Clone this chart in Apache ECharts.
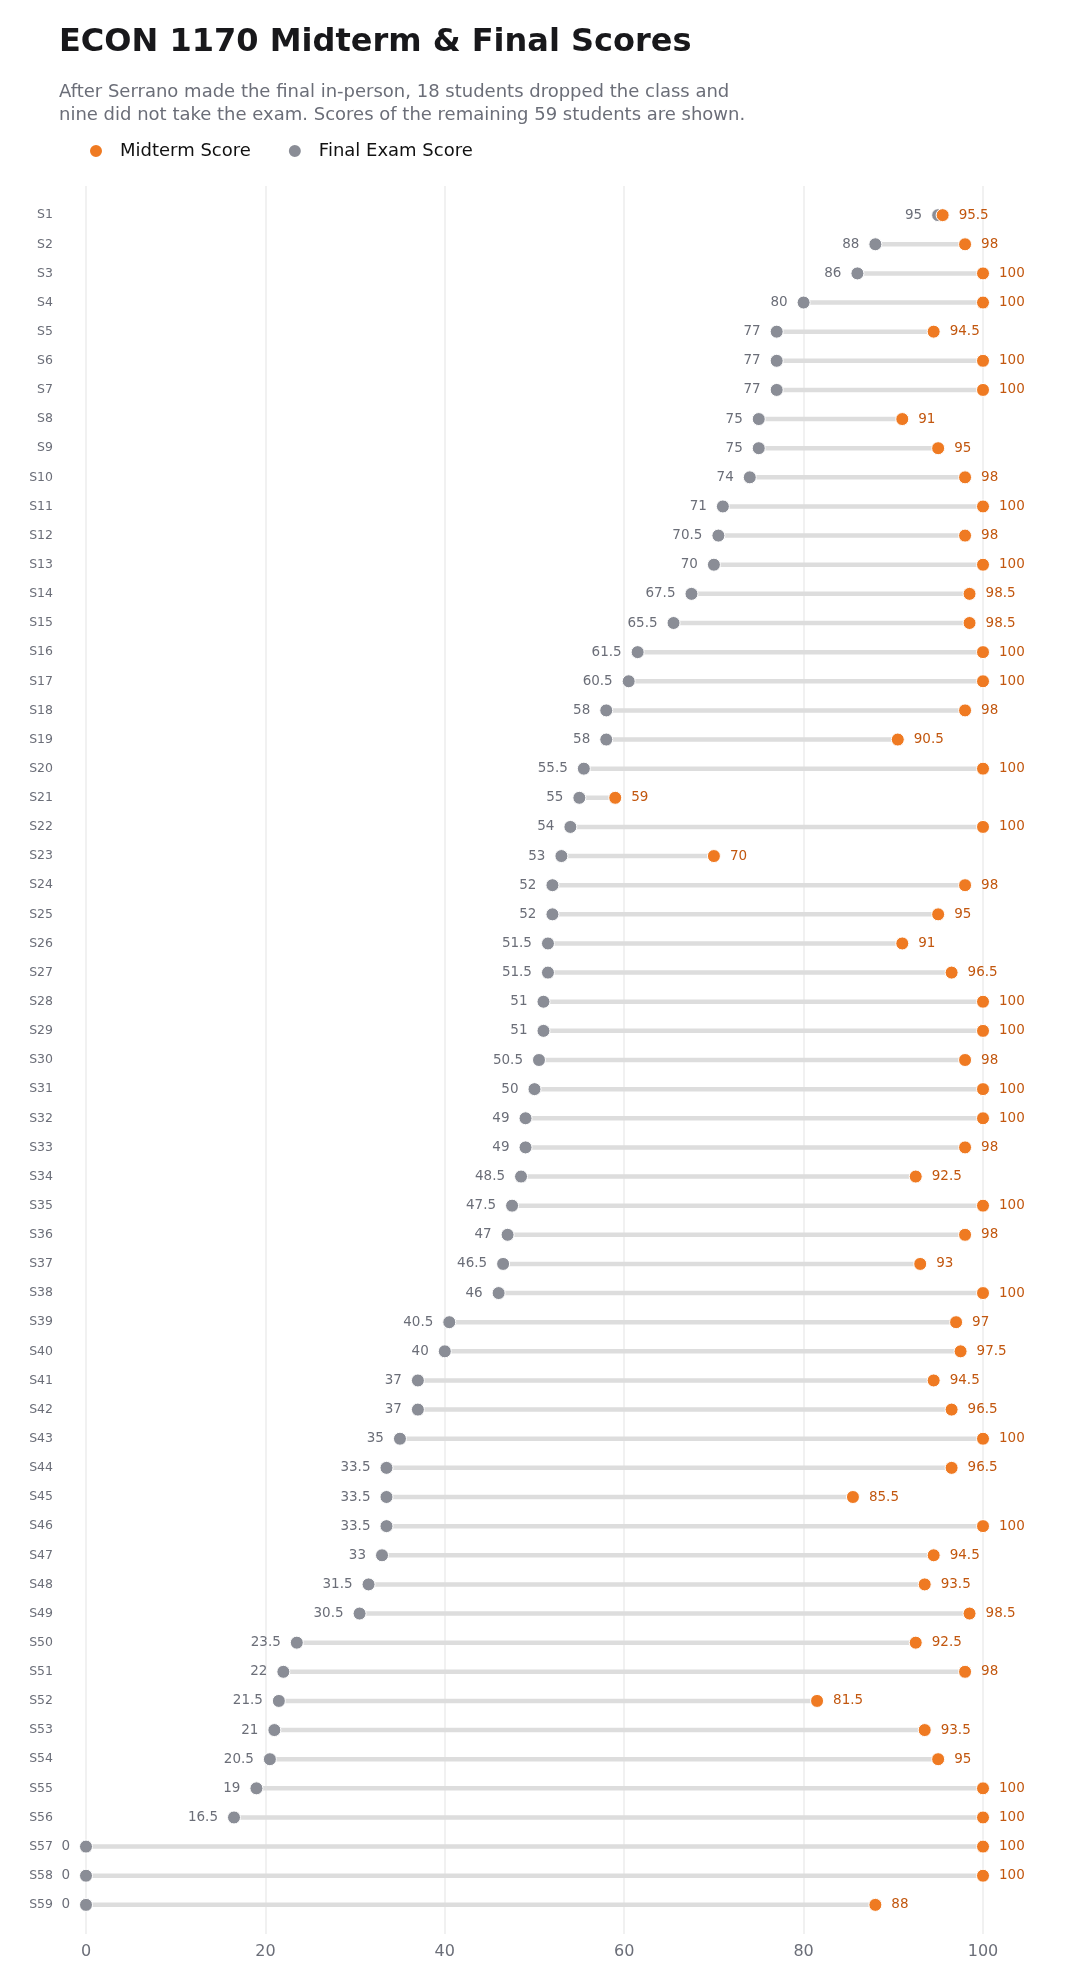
<!DOCTYPE html>
<html>
<head>
<meta charset="utf-8">
<script src="https://cdn.jsdelivr.net/npm/echarts@6/dist/echarts.min.js"></script>
<style>
  html, body { margin: 0; padding: 0; background: #fff; }
  #chart { width: 1090px; height: 1986px; }
</style>
</head>
<body>
<div id="chart"></div>
<script>
// students, top to bottom
const students = [];
for (let i = 1; i <= 59; i++) students.push('S' + i);

const finalScores = [95, 88, 86, 80, 77, 77, 77, 75, 75, 74, 71, 70.5, 70, 67.5, 65.5, 61.5, 60.5, 58, 58, 55.5,
  55, 54, 53, 52, 52, 51.5, 51.5, 51, 51, 50.5, 50, 49, 49, 48.5, 47.5, 47, 46.5, 46, 40.5, 40,
  37, 37, 35, 33.5, 33.5, 33.5, 33, 31.5, 30.5, 23.5, 22, 21.5, 21, 20.5, 19, 16.5, 0, 0, 0];

const midtermScores = [95.5, 98, 100, 100, 94.5, 100, 100, 91, 95, 98, 100, 98, 100, 98.5, 98.5, 100, 100, 98, 90.5, 100,
  59, 100, 70, 98, 95, 91, 96.5, 100, 100, 98, 100, 100, 98, 92.5, 100, 98, 93, 100, 97, 97.5,
  94.5, 96.5, 100, 96.5, 85.5, 100, 94.5, 93.5, 98.5, 92.5, 98, 81.5, 93.5, 95, 100, 100, 100, 100, 88];

const xTicks = [0, 20, 40, 60, 80, 100];

const ORANGE = '#ef7a22';
const GRAY = '#8a8d96';

// blank slot above and below so rows sit one step in from the grid edges
const yCats = [''].concat(students, ['']);

const chart = echarts.init(document.getElementById('chart'));

const option = {
  backgroundColor: '#fff',
  textStyle: { fontFamily: 'DejaVu Sans' },
  title: [
    {
      text: 'ECON 1170 Midterm & Final Scores',
      left: 54, top: 22,
      textStyle: { fontSize: 32, fontWeight: 'bold', color: '#18181b', fontFamily: 'DejaVu Sans' }
    },
    {
      text: 'After Serrano made the final in-person, 18 students dropped the class and\nnine did not take the exam. Scores of the remaining 59 students are shown.',
      left: 54, top: 76,
      textStyle: { fontSize: 18, fontWeight: 'normal', color: '#6b6e78', lineHeight: 23, fontFamily: 'DejaVu Sans' }
    }
  ],
  legend: {
    data: ['Midterm Score', 'Final Exam Score'],
    left: 83, top: 137,
    icon: 'circle',
    itemWidth: 14, itemHeight: 14,
    itemGap: 36,
    textStyle: { fontSize: 18, color: '#111', padding: [0, 0, 0, 12] }
  },
  grid: { left: 86, right: 107, top: 186, bottom: 52 },
  xAxis: {
    type: 'value',
    min: 0, max: 100, interval: 20,
    axisLine: { show: false },
    axisTick: { show: false },
    splitLine: { show: true, lineStyle: { color: '#ececec', width: 1.5 } },
    axisLabel: {
      color: '#6b6e78', fontSize: 16, margin: 10,
      formatter: v => xTicks.indexOf(v) >= 0 ? String(v) : ''
    }
  },
  yAxis: {
    type: 'category',
    data: yCats,
    inverse: true,
    boundaryGap: false,
    axisLine: { show: false },
    axisTick: { show: false },
    splitLine: { show: false },
    axisLabel: { color: '#6b6e78', fontSize: 12.5, margin: 33, interval: 0 }
  },
  series: [
    {
      name: 'gap',
      type: 'custom',
      silent: true,
      z: 1,
      data: students.map((s, i) => [finalScores[i], midtermScores[i], s]),
      encode: { x: [0, 1], y: 2 },
      renderItem: (params, api) => {
        const a = api.coord([api.value(0), api.value(2)]);
        const b = api.coord([api.value(1), api.value(2)]);
        return {
          type: 'line',
          shape: { x1: a[0], y1: a[1], x2: b[0], y2: b[1] },
          style: { stroke: '#dddddd', lineWidth: 4.5 }
        };
      }
    },
    {
      name: 'Final Exam Score',
      type: 'scatter',
      z: 2,
      symbolSize: 13,
      itemStyle: { color: GRAY, borderColor: '#fff', borderWidth: 1, opacity: 1 },
      data: students.map((s, i) => [finalScores[i], s]),
      label: {
        show: true, position: 'left', distance: 9,
        fontSize: 13.5, color: '#6b6e78',
        formatter: p => String(p.value[0])
      }
    },
    {
      name: 'Midterm Score',
      type: 'scatter',
      z: 3,
      symbolSize: 13,
      itemStyle: { color: ORANGE, borderColor: '#fff', borderWidth: 1, opacity: 1 },
      data: students.map((s, i) => [midtermScores[i], s]),
      label: {
        show: true, position: 'right', distance: 9,
        fontSize: 13.5, color: '#c2570f',
        formatter: p => String(p.value[0])
      }
    }
  ]
};

chart.setOption(option);
</script>
</body>
</html>
